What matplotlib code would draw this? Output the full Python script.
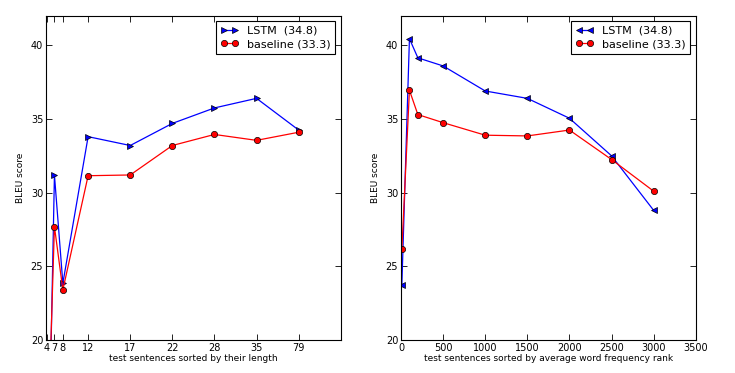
"""
BLEU score of LSTM vs baseline, by sentence length and by word frequency rank.
"""
import matplotlib
matplotlib.use("Agg")
from matplotlib import pyplot as plt

# left panel: sentences sorted by length (x is the position in the sorted test set)
len_x = [10, 100, 200, 500, 1000, 1500, 2000, 2500, 3000]
len_tick_labels = ["4", "7", "8", "12", "17", "22", "28", "35", "79"]
len_lstm = [5.0, 31.2, 23.85, 33.8, 33.2, 34.7, 35.75, 36.4, 34.25]
len_base = [11.0, 27.7, 23.4, 31.15, 31.2, 33.2, 33.95, 33.55, 34.1]

# right panel: sentences sorted by average word frequency rank
freq_x = [10, 100, 200, 500, 1000, 1500, 2000, 2500, 3000]
freq_lstm = [23.75, 40.45, 39.15, 38.6, 36.9, 36.4, 35.05, 32.5, 28.8]
freq_base = [26.15, 36.95, 35.3, 34.75, 33.9, 33.85, 34.25, 32.25, 30.1]

lstm_label = "LSTM  (34.8)"
base_label = "baseline (33.3)"

plt.rcParams['font.family'] = ['DejaVu Sans']
plt.rcParams['xtick.direction'] = 'in'
plt.rcParams['ytick.direction'] = 'in'
plt.rcParams['xtick.top'] = True
plt.rcParams['ytick.right'] = True


def style_axes(ax, xlabel):
    ax.set_ylim(20, 42)
    ax.set_xlim(0, 3500)
    ax.set_yticks([20, 25, 30, 35, 40])
    ax.set_ylabel("BLEU score", fontsize=6.5, labelpad=4)
    ax.set_xlabel(xlabel, fontsize=6.5, labelpad=1)
    ax.tick_params(labelsize=7, length=4, width=0.6, pad=2)
    for sp in ax.spines.values():
        sp.set_linewidth(0.8)
    leg = ax.legend(loc='upper right', numpoints=2, fontsize=8,
                    fancybox=False, framealpha=1, borderaxespad=0.5,
                    handlelength=1.6, labelspacing=0.3)
    leg.get_frame().set_edgecolor('black')
    leg.get_frame().set_linewidth(0.8)


fig = plt.figure(figsize=(7.35, 3.73), dpi=100)
ax1 = fig.add_axes([0.0626, 0.0885, 0.401, 0.869])
ax2 = fig.add_axes([0.5456, 0.0885, 0.401, 0.869])

ax1.plot(len_x, len_lstm, color='b', marker='>', markersize=4.5, lw=0.9,
         markeredgecolor='black', markeredgewidth=0.5, label=lstm_label)
ax1.plot(len_x, len_base, color='r', marker='o', markersize=4.5, lw=0.9,
         markeredgecolor='black', markeredgewidth=0.5, label=base_label)
ax1.set_xticks(len_x)
ax1.set_xticklabels(len_tick_labels)
style_axes(ax1, "test sentences sorted by their length")

ax2.plot(freq_x, freq_lstm, color='b', marker='<', markersize=4.5, lw=0.9,
         markeredgecolor='black', markeredgewidth=0.5, label=lstm_label)
ax2.plot(freq_x, freq_base, color='r', marker='o', markersize=4.5, lw=0.9,
         markeredgecolor='black', markeredgewidth=0.5, label=base_label)
ax2.set_xticks(range(0, 3501, 500))
style_axes(ax2, "test sentences sorted by average word frequency rank")

fig.savefig("out.png", dpi=100)
